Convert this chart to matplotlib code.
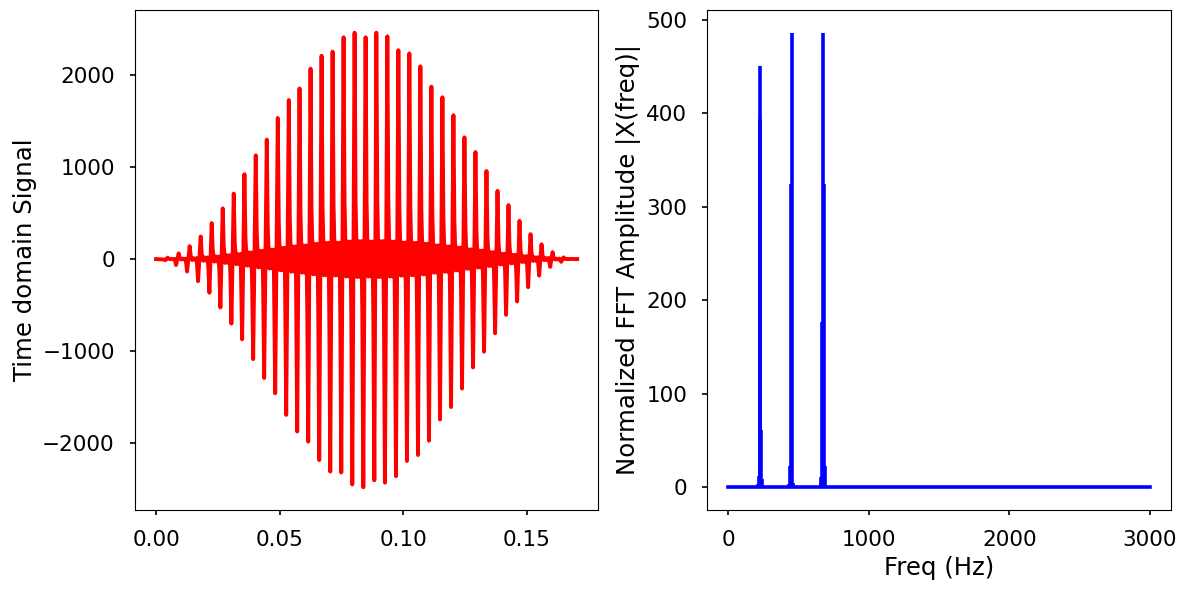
import matplotlib
matplotlib.use("Agg")
import matplotlib.pyplot as plt
import numpy as np

# time-domain signal, read per period off the picture
# (time of the big negative spike, time of the big positive spike, their values,
#  the small "shoulder" level next to each spike and the ripple level between spikes)
t_neg = [0.00377, 0.00811, 0.01257, 0.01702, 0.02161, 0.02606, 0.03052, 0.03486, 0.03932, 0.04378,
         0.04824, 0.05270, 0.05715, 0.06161, 0.06607, 0.07053, 0.07499, 0.07945, 0.08391, 0.08837,
         0.09266, 0.09712, 0.10158, 0.10604, 0.11050, 0.11496, 0.11942, 0.12387, 0.12833, 0.13279,
         0.13725, 0.14171, 0.14617, 0.15063, 0.15509, 0.15955, 0.16400]
t_pos = [0.00470, 0.00916, 0.01362, 0.01808, 0.02254, 0.02700, 0.03146, 0.03579, 0.04037, 0.04483,
         0.04929, 0.05375, 0.05809, 0.06255, 0.06701, 0.07147, 0.07592, 0.08038, 0.08484, 0.08918,
         0.09364, 0.09810, 0.10255, 0.10701, 0.11147, 0.11593, 0.12039, 0.12485, 0.12931, 0.13377,
         0.13823, 0.14268, 0.14714, 0.15160, 0.15606, 0.16052, 0.16498]
neg_peak = [-12, -65, -135, -240, -365, -525, -700, -870, -1085, -1290,
            -1455, -1690, -1870, -1980, -2180, -2305, -2315, -2445, -2475, -2400,
            -2425, -2355, -2190, -2125, -1970, -1740, -1605, -1405, -1175, -1005,
            -805, -605, -460, -305, -180, -85, -30]
pos_peak = [15, 62, 140, 245, 390, 550, 710, 920, 1125, 1295,
            1530, 1725, 1850, 2065, 2205, 2250, 2405, 2455, 2405, 2455,
            2415, 2265, 2230, 2090, 1870, 1755, 1560, 1320, 1160, 955,
            740, 585, 415, 270, 160, 75, 18]
shoulder = [5, 18, 38, 65, 105, 145, 185, 240, 295, 340,
            400, 450, 485, 540, 575, 585, 615, 630, 615, 630,
            620, 585, 575, 540, 485, 455, 405, 340, 300, 245,
            190, 150, 105, 70, 42, 20, 6]
ripple = [1, 5, 10, 18, 28, 42, 55, 72, 90, 102,
          122, 137, 147, 165, 176, 178, 190, 195, 190, 195,
          190, 180, 176, 166, 148, 138, 124, 105, 92, 75,
          58, 46, 32, 20, 12, 5, 1]
t_end = 0.1705

# spectrum: non-zero FFT bins (plus the two ends of the axis)
fft_freq = [0, 210.9, 216.8, 222.7, 228.5, 234.4, 240.2,
            433.6, 439.5, 445.3, 451.2, 457.0,
            656.3, 662.1, 668.0, 673.8, 679.7, 685.5, 3000]
fft_amp = [0, 4, 12, 450, 394, 61, 9,
           4, 23, 324, 486, 5,
           5, 11, 177, 486, 324, 23, 0]

plt.rcParams['font.family'] = ['DejaVu Sans']

# put the per-period levels in time order
tt = [0.0]
yy = [0.0]
for i in range(len(t_pos)):
    tt += [t_neg[i] - 0.0004, t_neg[i], t_pos[i], t_pos[i] + 0.0004,
           t_pos[i] + 0.0010, t_pos[i] + 0.0016, t_pos[i] + 0.0022, t_pos[i] + 0.0028]
    yy += [-shoulder[i], neg_peak[i], pos_peak[i], shoulder[i],
           -ripple[i], ripple[i], -ripple[i], ripple[i]]
tt.append(t_end)
yy.append(0.0)

fig = plt.figure(figsize=(11.88, 5.9), dpi=100)
ax1 = fig.add_axes([0.1136, 0.1356, 0.39, 0.8475])
ax2 = fig.add_axes([0.5954, 0.1356, 0.39, 0.8475])

ax1.plot(tt, yy, color='r', linewidth=2.8)
ax1.set_ylabel('Time domain Signal', fontsize=17.6)
ax1.set_xticks([0.00, 0.05, 0.10, 0.15])
ax1.set_yticks([-2000, -1000, 0, 1000, 2000])

markerline, stemlines, baseline = ax2.stem(fft_freq, fft_amp, linefmt='b-',
                                           markerfmt=' ', basefmt='b-')
stemlines.set_linewidth(2.6)
baseline.set_linewidth(2.6)
ax2.set_xlabel('Freq (Hz)', fontsize=17.6)
ax2.set_ylabel('Normalized FFT Amplitude |X(freq)|', fontsize=17.6)
ax2.set_xticks([0, 1000, 2000, 3000])

for ax in (ax1, ax2):
    ax.tick_params(labelsize=15.5, length=3.5, width=1.2, pad=11)
    for s in ax.spines.values():
        s.set_linewidth(0.8)

fig.savefig('out.png', dpi=100)
